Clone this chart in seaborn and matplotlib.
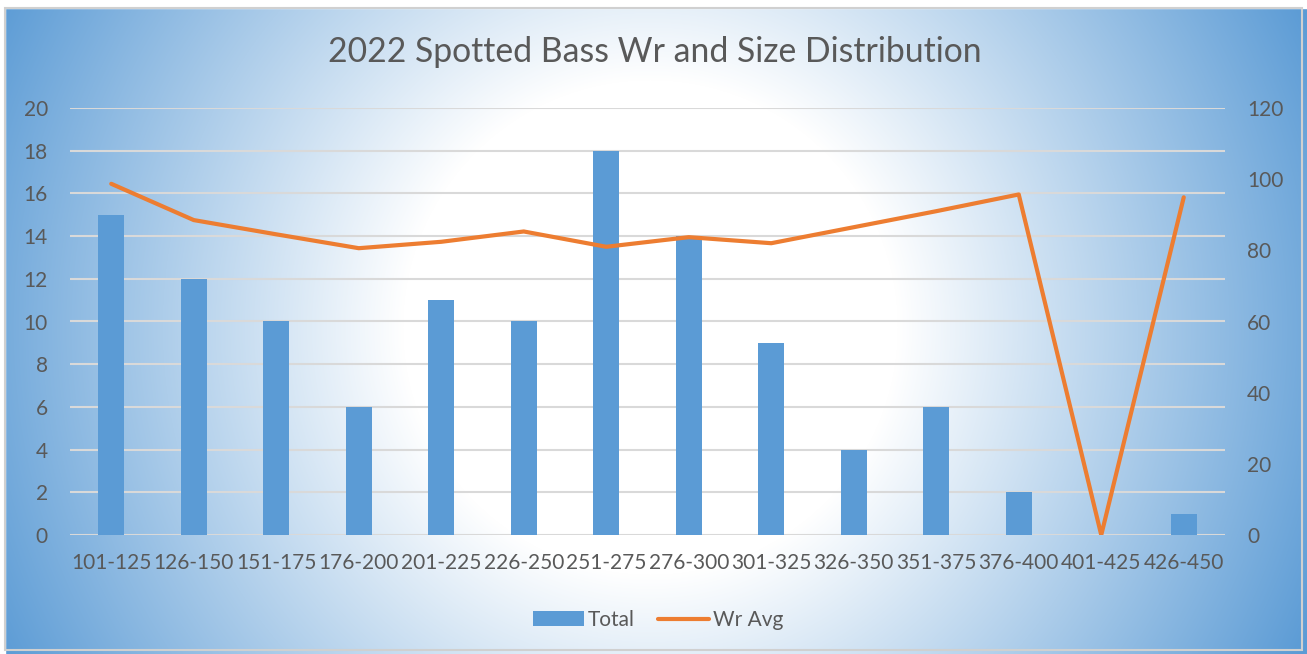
import matplotlib
matplotlib.use("Agg")
import matplotlib.pyplot as plt
import seaborn as sns
import numpy as np
import pandas as pd
from matplotlib.patches import Patch, Rectangle
from matplotlib.lines import Line2D

# size classes (mm) and values
size_classes = ["101-125", "126-150", "151-175", "176-200", "201-225", "226-250", "251-275",
                "276-300", "301-325", "326-350", "351-375", "376-400", "401-425", "426-450"]
total = [15, 12, 10, 6, 11, 10, 18, 14, 9, 4, 6, 2, 0, 1]
wr_avg = [98.7, 88.5, 84.5, 80.6, 82.4, 85.3, 81.0, 83.7, 82.0, 86.5, 91.0, 95.7, 0, 94.9]

bar_color = "#5B9BD5"
line_color = "#ED7D31"
text_color = "#595959"
grid_color = "#D9D9D9"

sns.set_theme(style="white")
plt.rcParams["font.family"] = ["Lato", "DejaVu Sans"]

W, H = 1307, 654
fig = plt.figure(figsize=(W / 100, H / 100), dpi=100)

# radial gradient background (white centre, blue edges)
bg = fig.add_axes([0, 0, 1, 1], zorder=-10)
yy, xx = np.mgrid[0:H, 0:W]
d = np.sqrt((xx - 650.0) ** 2 + (yy - 327.0) ** 2) / 650.0
t = np.clip((d - 0.38) / (1.12 - 0.38), 0, 1)
blue = np.array([91, 155, 213]) / 255.0
img = (1 - t[..., None]) * np.ones(3) + t[..., None] * blue
bg.imshow(img, extent=[0, W, H, 0], aspect="auto")
bg.add_patch(Rectangle((0, 0), W, 8, color="white", zorder=2))
bg.add_patch(Rectangle((0, 0), 5, H, color="white", zorder=2))
bg.add_patch(Rectangle((5, 8), W - 10, H - 12, fill=False, edgecolor="#D0D0D0", lw=1.5, zorder=3))
bg.set_xlim(0, W)
bg.set_ylim(H, 0)
bg.axis("off")

ax = fig.add_axes([70 / W, 1 - 535 / H, (1225 - 70) / W, (535 - 108) / H])
ax.patch.set_alpha(0)

df = pd.DataFrame({"size": size_classes, "Total": total, "Wr": wr_avg})
sns.barplot(data=df, x="size", y="Total", color=bar_color, saturation=1, width=0.31,
            linewidth=0, ax=ax, zorder=3)
ax.set_ylim(0, 20)
ax.set_xlim(-0.5, len(size_classes) - 0.5)
ax.set_yticks(range(0, 21, 2))
ax.yaxis.grid(True, color=grid_color, lw=1.5)
ax.set_axisbelow(True)
ax.set_xlabel("")
ax.set_ylabel("")
for s in ax.spines.values():
    s.set_visible(False)
ax.tick_params(axis="y", length=0, pad=16, labelsize=15, labelcolor=text_color)
ax.tick_params(axis="x", length=0, pad=13, labelsize=15, labelcolor=text_color)

ax2 = ax.twinx()
sns.lineplot(x=np.arange(len(size_classes)), y=wr_avg, color=line_color, lw=3, ax=ax2, zorder=4)
ax2.set_ylim(0, 120)
ax2.set_yticks(range(0, 121, 20))
ax2.set_xlim(-0.5, len(size_classes) - 0.5)
for s in ax2.spines.values():
    s.set_visible(False)
ax2.tick_params(axis="y", length=0, pad=16, labelsize=15, labelcolor=text_color)
ax2.grid(False)

fig.text(655 / W, 1 - 52 / H, "2022 Spotted Bass Wr and Size Distribution",
         ha="center", va="center", fontsize=24.3, color=text_color)

handles = [Patch(facecolor=bar_color, edgecolor="none", label="Total"),
           Line2D([0], [0], color=line_color, lw=3, solid_capstyle="round", label="Wr Avg")]
fig.legend(handles=handles, loc="center", bbox_to_anchor=(658 / W, 1 - 620 / H), ncol=2,
           frameon=False, fontsize=15, labelcolor=text_color, handlelength=2.45,
           handleheight=0.75, handletextpad=0.2, columnspacing=1.1)

fig.savefig("out.png", dpi=100)
